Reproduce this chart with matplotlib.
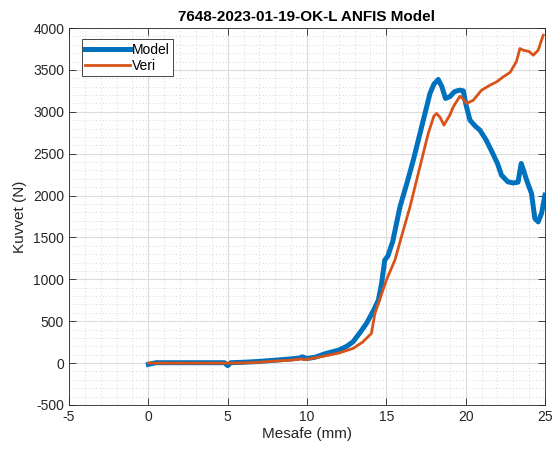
import matplotlib
matplotlib.use("Agg")
import matplotlib.pyplot as plt
from matplotlib.ticker import MultipleLocator

plt.rcParams['font.family'] = ['Liberation Sans', 'DejaVu Sans']
plt.rcParams['axes.unicode_minus'] = False

title = "7648-2023-01-19-OK-L ANFIS Model"
xlabel = "Mesafe (mm)"
ylabel = "Kuvvet (N)"
series_names = ["Model", "Veri"]

model_x = [0, 0.5, 2, 4, 4.8, 5.0, 5.2, 6, 7, 8, 9, 9.5, 9.7, 10.0, 10.5, 11.2, 12.0, 12.5,
           12.9, 13.4, 13.75, 14.2, 14.5, 14.7, 14.9, 15.1, 15.4, 15.86, 16.3, 16.7, 17.0,
           17.33, 17.75, 18.0, 18.27, 18.5, 18.73, 19.0, 19.3, 19.6, 19.85, 20.0, 20.27,
           20.6, 20.9, 21.3, 21.7, 22.0, 22.26, 22.66, 23.0, 23.3, 23.5, 23.65, 23.84,
           24.15, 24.36, 24.57, 24.78, 25.0]
model_y = [-15, 5, 5, 5, 5, -30, 5, 10, 20, 35, 50, 60, 75, 55, 70, 115, 155, 200,
           254, 380, 474, 632, 752, 950, 1229, 1280, 1450, 1865, 2150, 2422, 2650,
           2900, 3218, 3330, 3386, 3300, 3159, 3180, 3240, 3258, 3250, 3099, 2900,
           2830, 2780, 2660, 2505, 2385, 2243, 2164, 2150, 2160, 2383, 2300, 2184,
           2025, 1727, 1686, 1786, 2005]

veri_x = [0, 2, 4, 5, 6, 7, 8, 9, 9.6, 9.8, 10, 11, 12, 12.9, 13.5, 14.06, 14.28, 14.5,
          15.0, 15.54, 16.0, 16.49, 17.22, 17.64, 18.0, 18.17, 18.4, 18.63, 19.0, 19.22,
          19.64, 19.85, 20.06, 20.48, 21.0, 21.53, 21.95, 22.37, 22.8, 23.2, 23.42,
          23.63, 24.0, 24.26, 24.57, 24.78, 24.89]
veri_y = [0, 0, 0, 0, 3, 10, 25, 35, 50, 40, 45, 80, 120, 175, 250, 354, 593, 712,
          990, 1229, 1540, 1865, 2422, 2741, 2950, 2980, 2930, 2840, 2960, 3059,
          3186, 3150, 3099, 3138, 3258, 3317, 3357, 3417, 3470, 3600, 3755,
          3735, 3720, 3675, 3735, 3854, 3914]

blue = "#0072BD"
orange = "#D95319"
axcol = "#262626"

fig = plt.figure(figsize=(5.54, 4.55), dpi=100)
ax = fig.add_axes([69/554, 50/455, 476/554, 377/455])

ax.plot(model_x, model_y, color=blue, lw=3.6, label=series_names[0], solid_joinstyle='round')
ax.plot(veri_x, veri_y, color=orange, lw=2.0, label=series_names[1])

ax.set_xlim(-5, 25)
ax.set_ylim(-500, 4000)
ax.xaxis.set_major_locator(MultipleLocator(5))
ax.xaxis.set_minor_locator(MultipleLocator(1))
ax.yaxis.set_major_locator(MultipleLocator(500))
ax.yaxis.set_minor_locator(MultipleLocator(100))

ax.grid(which='major', color='#dcdcdc', lw=0.8, ls='-')
ax.grid(which='minor', color='#c8c8c8', lw=0.6, ls=(0, (1, 3)))
ax.set_axisbelow(True)

ax.tick_params(which='both', direction='in', top=True, right=True, colors=axcol, labelsize=10)
ax.tick_params(which='major', length=5, width=0.6)
ax.tick_params(which='minor', length=0)
for s in ax.spines.values():
    s.set_color(axcol)
    s.set_linewidth(0.6)

ax.set_title(title, fontsize=11, fontweight='bold', color='black', pad=5)
ax.set_xlabel(xlabel, fontsize=11, color=axcol, labelpad=2)
ax.set_ylabel(ylabel, fontsize=11, color=axcol, labelpad=4)

leg = ax.legend(loc='upper left', bbox_to_anchor=((81.7 - 69) / 476, (405 - 39.3) / 377), fontsize=10,
                fancybox=False, framealpha=1, edgecolor=axcol, handlelength=3.2,
                borderpad=0.25, labelspacing=0.15, handletextpad=0.15, borderaxespad=0)
leg.get_frame().set_linewidth(0.6)

fig.savefig("out.png", dpi=100)
